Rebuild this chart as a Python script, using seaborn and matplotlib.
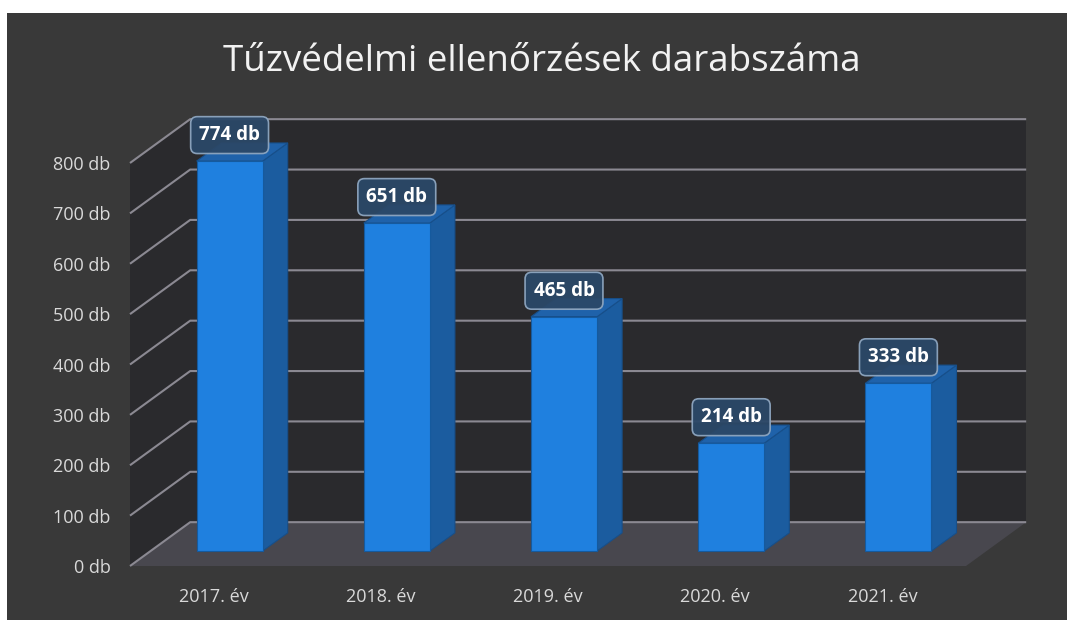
import matplotlib.pyplot as plt
import seaborn as sns
from matplotlib.patches import Polygon, Rectangle
from matplotlib.transforms import ScaledTranslation

# data
years = ["2017. év", "2018. év", "2019. év", "2020. év", "2021. év"]
counts = [774, 651, 465, 214, 333]
yticks = [0, 100, 200, 300, 400, 500, 600, 700, 800]

sns.set_theme(style="white")
plt.rcParams['font.family'] = ['Open Sans', 'DejaVu Sans']

BG = "#393939"
WALL = "#2a2a2d"
FLOOR = "#48474e"
GRID = "#8b8992"
FRONT = "#1f80df"
SIDE = "#1b5c9f"
TOP = "#1f62aa"

# depth offsets, data units (categories / db)
BDX, BDY = 0.36, 87      # back wall
DX, DY = 0.15, 36        # depth of a bar

fig = plt.figure(figsize=(10.71, 6.2), dpi=100, facecolor="white")
fig.add_artist(Rectangle((7 / 1071, 0), 1060 / 1071, 607 / 620, transform=fig.transFigure,
                         facecolor=BG, edgecolor="none", zorder=-10))

ax = fig.add_axes([130 / 1071, 54 / 620, 836 / 1071, 900 * 0.50375 / 620])
ax.set_facecolor("none")

# walls and floor
x0, x1 = -0.5, 4.5
ax.add_patch(Polygon([(x0, 0), (x0 + BDX, BDY), (x0 + BDX, 800 + BDY), (x0, 800)],
                     closed=True, fc=WALL, ec="none", zorder=0, clip_on=False))
ax.add_patch(Polygon([(x0 + BDX, BDY), (x1 + BDX, BDY), (x1 + BDX, 800 + BDY), (x0 + BDX, 800 + BDY)],
                     closed=True, fc=WALL, ec="none", zorder=0, clip_on=False))
ax.add_patch(Polygon([(x0, 0), (x1, 0), (x1 + BDX, BDY), (x0 + BDX, BDY)],
                     closed=True, fc=FLOOR, ec="none", zorder=1, clip_on=False))
for t in yticks:
    ax.plot([x0, x0 + BDX, x1 + BDX], [t, t + BDY, t + BDY], color=GRID, lw=1.5,
            zorder=1.5, clip_on=False, solid_capstyle="butt")

# bars (front faces) via seaborn
sns.barplot(x=years, y=counts, ax=ax, width=0.395, color=FRONT, saturation=1,
            edgecolor="#155a9e", linewidth=0.8, zorder=3)
ax.set_xlim(-0.5, 4.5)
ax.set_ylim(0, 900)
bars = list(ax.containers[0])
shift = ScaledTranslation(16 / 100, 15 / 100, fig.dpi_scale_trans)
tr = ax.transData + shift
for p, v in zip(bars, counts):
    p.set_transform(tr)
    p.set_clip_on(False)
    x, w, h = p.get_x(), p.get_width(), p.get_height()
    ax.add_patch(Polygon([(x + w, 0), (x + w + DX, DY), (x + w + DX, h + DY), (x + w, h)],
                         closed=True, fc=SIDE, ec="#174f8a", lw=0.8, zorder=2.9,
                         transform=tr, clip_on=False))
    ax.add_patch(Polygon([(x, h), (x + w, h), (x + w + DX, h + DY), (x + DX, h + DY)],
                         closed=True, fc=TOP, ec="#174f8a", lw=0.8, zorder=2.9,
                         transform=tr, clip_on=False))
    ax.text(x + w / 2, v, f"{v} db", transform=tr + ScaledTranslation(0, 26 / 100, fig.dpi_scale_trans),
            ha="center", va="center", color="white", fontsize=13.5, fontweight="bold", zorder=5,
            bbox=dict(boxstyle="round,pad=0.45,rounding_size=0.35", fc="#2b4868", ec="#8ea6c0",
                      lw=1.2, alpha=0.95))

ax.set_yticks(yticks)
ax.set_yticklabels([f"{t} db" for t in yticks])
ax.tick_params(axis="y", length=0, pad=14, labelsize=13, labelcolor="#d9d9d9")
ax.tick_params(axis="x", length=0, pad=16, labelsize=13, labelcolor="#d9d9d9")
ax.set_xlabel("")
ax.set_ylabel("")
for s in ax.spines.values():
    s.set_visible(False)

fig.text(542 / 1071, 1 - 62 / 620, "Tűzvédelmi ellenőrzések darabszáma", ha="center", va="center",
         color="#f2f2f2", fontsize=26.5)

fig.savefig("out.png", dpi=100, facecolor=fig.get_facecolor())
